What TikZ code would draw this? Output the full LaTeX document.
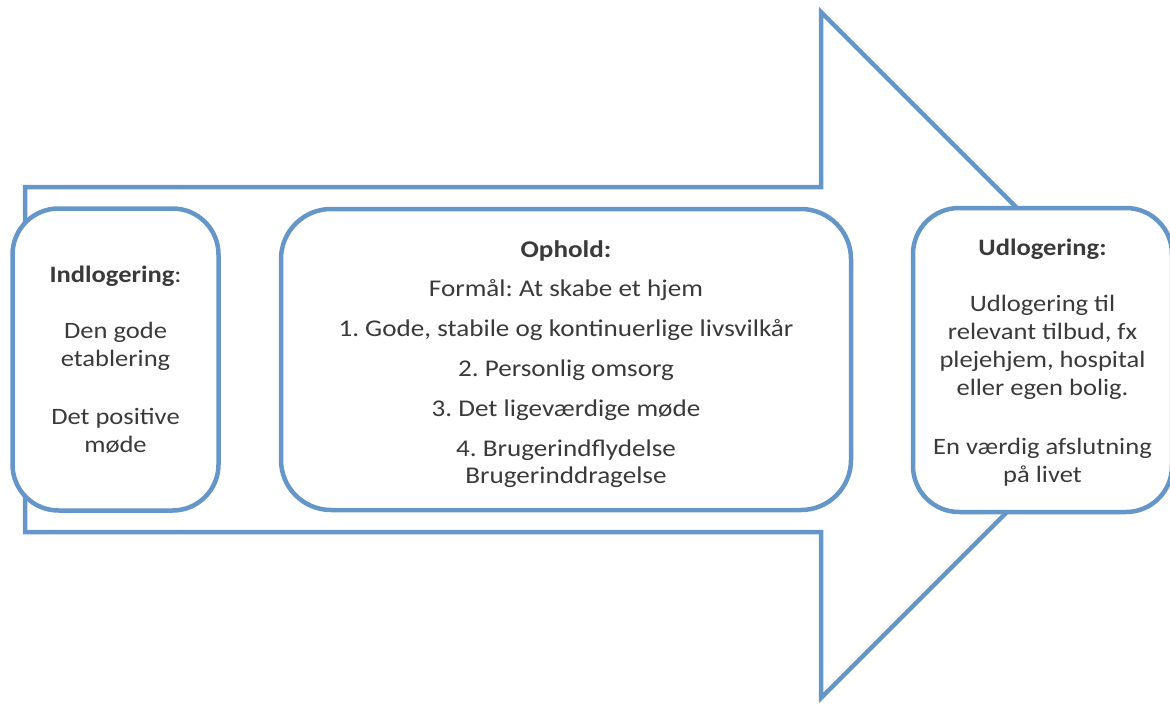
\documentclass[tikz,border=0pt]{standalone}
\usepackage{fontspec}
\setmainfont{Carlito}[FakeStretch=1.13]
\frenchspacing
\definecolor{frameblue}{HTML}{6496C8}
\definecolor{ink}{HTML}{3A3A3A}
\tikzset{
  arrowoutline/.style={draw=frameblue, line width=4.5pt, line join=miter},
  stagebox/.style={draw=frameblue, fill=white, line width=4.5pt, rounded corners=46pt,
    inner sep=0pt, outer sep=0pt},
  stagetext/.style={inner sep=0pt, align=center, text=ink},
  sidetext/.style={font=\fontsize{23.5}{28}\selectfont},
  midtext/.style={font=\fontsize{24}{27}\selectfont}
}
\begin{document}
\begin{tikzpicture}[x=1pt,y=-1pt]
\useasboundingbox (0,0) rectangle (1170,704);
% big process arrow behind the stages
\coordinate (tip) at (1164,355);
\draw[arrowoutline] (25,187) -- (821,187) -- (821,12) -- (tip) -- (821,698) -- (821,532) -- (25,532) -- cycle;
% stage boxes
\node[stagebox, minimum width=206pt, minimum height=302pt] (ind) at (115.5,359.5) {};
\node[stagebox, minimum width=570pt, minimum height=301pt, rounded corners=50pt] (oph) at (566,359.5) {};
\node[stagebox, minimum width=259pt, minimum height=304pt] (udl) at (1042.5,360) {};
% stage texts
\node[stagetext, sidetext] (indtext) at (ind.center)
  {\textbf{Indlogering}:\\[28pt]Den gode\\etablering\\[30pt]Det positive\\møde};
\node[stagetext, midtext] (ophtext) at ([yshift=-5pt]oph.center)
  {\textbf{Ophold:}\\[12pt]Formål: At skabe et hjem\\[13pt]1. Gode, stabile og kontinuerlige livsvilkår\\[13pt]2. Personlig omsorg\\[13pt]3. Det ligeværdige møde\\[13pt]4. Brugerindflydelse\\Brugerinddragelse};
\node[stagetext, sidetext] (udltext) at ([yshift=-3pt]udl.center)
  {\textbf{Udlogering:}\\[28pt]Udlogering til\\relevant tilbud, fx\\plejehjem, hospital\\eller egen bolig.\\[31pt]En værdig afslutning\\på livet};
\end{tikzpicture}
\end{document}
